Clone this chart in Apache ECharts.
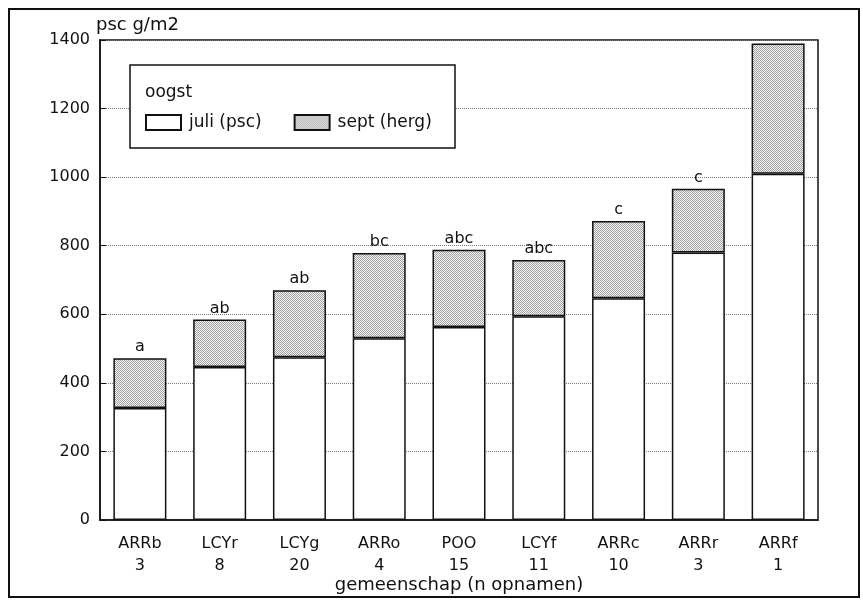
<!DOCTYPE html>
<html>
<head>
<meta charset="utf-8">
<script src="https://cdn.jsdelivr.net/npm/echarts@6/dist/echarts.min.js"></script>
<style>
  html, body { margin: 0; padding: 0; background: #fff; }
  #chart { width: 863px; height: 604px; }
</style>
</head>
<body>
<div id="chart"></div>
<script>
// Plant communities with the number of relevés per community
const communities = ['ARRb', 'LCYr', 'LCYg', 'ARRo', 'POO', 'LCYf', 'ARRc', 'ARRr', 'ARRf'];
const relevesCount = ['3', '8', '20', '4', '15', '11', '10', '3', '1'];
// July harvest (standing crop) and September regrowth, g/m2
const juliPsc = [327, 446, 475, 530, 563, 594, 647, 780, 1010];
const septHerg = [145, 139, 195, 249, 225, 164, 225, 186, 380];
// Significance letters shown above each stack
const signifLetters = ['a', 'ab', 'ab', 'bc', 'abc', 'abc', 'c', 'c', ''];
const yTicks = [0, 200, 400, 600, 800, 1000, 1200, 1400];

const FONT = 'DejaVu Sans';

// Fine stippled fill for the regrowth part of each bar
function stipple() {
  const c = document.createElement('canvas');
  c.width = 2; c.height = 2;
  const g = c.getContext('2d');
  g.fillStyle = '#f2f2f2';
  g.fillRect(0, 0, 2, 2);
  g.fillStyle = '#a4a4a4';
  g.fillRect(0, 0, 1, 1);
  g.fillRect(1, 1, 1, 1);
  return { image: c, repeat: 'repeat' };
}
const dots = stipple();

const chart = echarts.init(document.getElementById('chart'));
chart.setOption({
  animation: false,
  backgroundColor: '#fff',
  textStyle: { fontFamily: FONT, color: '#111' },
  grid: {
    left: 100, right: 45, top: 40, bottom: 84,
    containLabel: false, outerBoundsMode: 'none',
    show: true, borderColor: '#111', borderWidth: 1.5, backgroundColor: 'transparent'
  },
  legend: {
    left: 145, top: 114, z: 10, padding: 0,
    icon: 'rect', itemWidth: 35, itemHeight: 15, itemGap: 32,
    textStyle: { fontFamily: FONT, fontSize: 17, color: '#111', padding: [0, 0, 0, 3] },
    data: ['juli (psc)', 'sept (herg)']
  },
  xAxis: {
    type: 'category',
    data: communities.map((c, i) => c + '\n' + relevesCount[i]),
    boundaryGap: true,
    axisLine: { lineStyle: { color: '#111', width: 1.5 } },
    axisTick: { inside: true, alignWithLabel: true, length: 6, lineStyle: { color: '#111' } },
    axisLabel: { fontFamily: FONT, fontSize: 16, color: '#111', lineHeight: 22, margin: 13 }
  },
  yAxis: {
    type: 'value',
    min: yTicks[0], max: yTicks[yTicks.length - 1], interval: 200,
    axisLine: { show: true, lineStyle: { color: '#111', width: 1.5 } },
    axisTick: { show: true, inside: true, length: 6, lineStyle: { color: '#111' } },
    axisLabel: { fontFamily: FONT, fontSize: 16, color: '#111', margin: 10, formatter: v => String(v) },
    splitLine: { show: true, lineStyle: { color: '#777', type: 'dotted', width: 1 } },
    name: 'psc g/m2',
    nameLocation: 'end',
    nameGap: 6,
    nameTextStyle: { fontFamily: FONT, fontSize: 18, color: '#111', align: 'left', verticalAlign: 'bottom', padding: [0, 0, 0, -4] }
  },
  graphic: [
    {
      type: 'rect', z: 1,
      shape: { x: 9, y: 9, width: 850, height: 588 },
      style: { fill: 'none', stroke: '#111', lineWidth: 2 }
    },
    {
      type: 'rect', z: 5,
      shape: { x: 130, y: 65, width: 325, height: 83 },
      style: { fill: '#fff', stroke: '#111', lineWidth: 1.5 }
    },
    {
      type: 'text', z: 6, left: 145, top: 84,
      style: { text: 'oogst', font: '17px "DejaVu Sans"', fill: '#111' }
    },
    {
      // x-axis title, centred under the plot area
      type: 'text', z: 6, x: 459, y: 585,
      style: {
        text: 'gemeenschap (n opnamen)', font: '18px "DejaVu Sans"', fill: '#111',
        align: 'center', verticalAlign: 'middle'
      }
    }
  ],
  series: [
    {
      name: 'juli (psc)',
      type: 'bar',
      stack: 'oogst',
      barWidth: 53,
      itemStyle: { color: '#fff', borderColor: '#111', borderWidth: 1.5 },
      data: juliPsc
    },
    {
      name: 'sept (herg)',
      type: 'bar',
      stack: 'oogst',
      barWidth: 53,
      itemStyle: { color: dots, borderColor: '#111', borderWidth: 1.5 },
      label: {
        show: true, position: 'top', distance: 3,
        fontFamily: FONT, fontSize: 16, color: '#111',
        formatter: p => signifLetters[p.dataIndex]
      },
      data: septHerg
    }
  ]
});
</script>
</body>
</html>
